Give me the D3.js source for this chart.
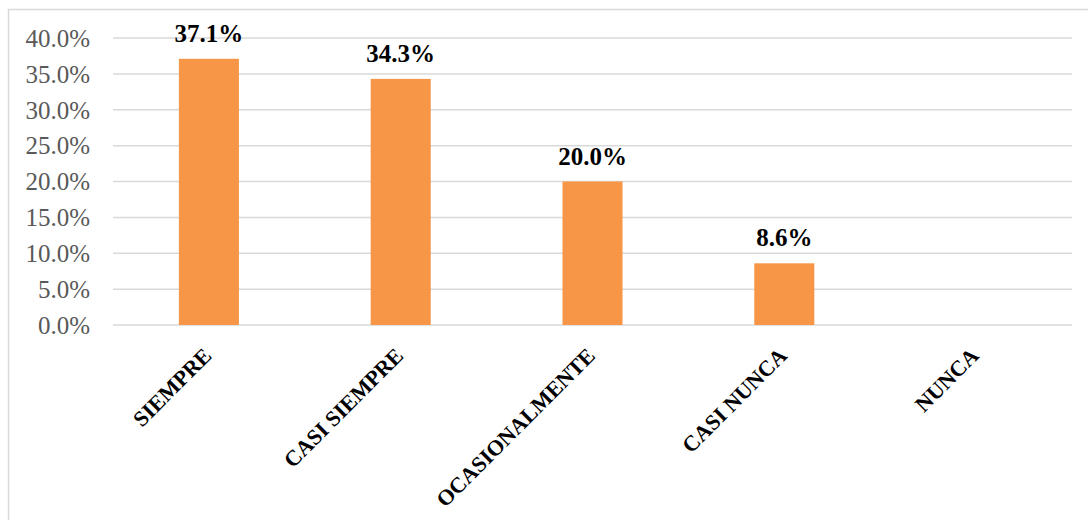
<!DOCTYPE html>
<html>
<head>
<meta charset="utf-8">
<script src="https://cdn.jsdelivr.net/npm/d3@7"></script>
<style>
  body { margin: 0; background: #fff; }
</style>
</head>
<body>
<div id="holder"></div>
<script>
const categories = ["SIEMPRE", "CASI SIEMPRE", "OCASIONALMENTE", "CASI NUNCA", "NUNCA"];
const values = [0.371, 0.343, 0.200, 0.086, 0];
const yTicks = [0, 0.05, 0.10, 0.15, 0.20, 0.25, 0.30, 0.35, 0.40];

const w = 1088;
const h = 520;
const plotLeft = 113, plotRight = 1072, plotTop = 38, plotBottom = 325;

// SVG
const svg = d3.select("#holder")
    .append("svg")
    .attr("width", w)
    .attr("height", h)

// chart border
svg.append("rect")
    .attr("x", 8.5)
    .attr("y", 9.5)
    .attr("width", w + 20)
    .attr("height", h + 20)
    .attr("fill", "none")
    .attr("stroke", "#d9d9d9")
    .attr("stroke-width", 1.5)

// SCALES
const xScale = d3.scaleBand()
    .domain(categories)
    .range([plotLeft, plotRight])
    .paddingInner(0.687)
    .paddingOuter(0.3435)

const yScale = d3.scaleLinear()
    .domain([0, 0.4])
    .range([plotBottom, plotTop])

// GRIDLINES
svg.append("g")
    .selectAll("line")
    .data(yTicks)
    .enter()
    .append("line")
    .attr("x1", plotLeft)
    .attr("x2", plotRight)
    .attr("y1", d => yScale(d))
    .attr("y2", d => yScale(d))
    .attr("stroke", "#d9d9d9")
    .attr("stroke-width", 1.5)

// Y AXIS (labels only)
const yAxis = d3.axisLeft(yScale)
    .tickValues(yTicks)
    .tickFormat(d3.format(".1%"))
    .tickSize(0)
    .tickPadding(0)

const yg = svg.append("g")
    .attr("transform", "translate(90,0)")
    .call(yAxis)
yg.select(".domain").remove()
yg.selectAll("text")
    .attr("font-family", "'Liberation Serif', serif")
    .attr("font-size", 25)
    .attr("fill", "#595959")
    .attr("dy", "0.33em")

// BARS
svg.selectAll("rect.bar")
    .data(values)
    .enter()
    .append("rect")
    .attr("class", "bar")
    .attr("x", (d, i) => xScale(categories[i]))
    .attr("y", d => yScale(d))
    .attr("width", xScale.bandwidth())
    .attr("height", d => plotBottom - yScale(d))
    .attr("fill", "#F79646")

// DATA LABELS
svg.selectAll("text.val")
    .data(values.filter(d => d > 0))
    .enter()
    .append("text")
    .attr("class", "val")
    .attr("x", (d, i) => xScale(categories[i]) + xScale.bandwidth() / 2)
    .attr("y", d => yScale(d) - 17)
    .attr("text-anchor", "middle")
    .attr("font-family", "'Liberation Serif', serif")
    .attr("font-weight", "bold")
    .attr("font-size", 25)
    .attr("fill", "#000")
    .text(d => d3.format(".1%")(d))

// X AXIS (rotated category labels)
const xAxis = d3.axisBottom(xScale)
    .tickSize(0)
    .tickPadding(0)

const xg = svg.append("g")
    .attr("transform", "translate(0," + plotBottom + ")")
    .call(xAxis)
xg.select(".domain").remove()
xg.selectAll("text")
    .attr("font-family", "'Liberation Serif', serif")
    .attr("font-weight", "bold")
    .attr("font-size", 22)
    .attr("fill", "#000")
    .attr("text-anchor", "end")
    .attr("y", 0)
    .attr("dy", 0)
    .attr("transform", "translate(4,32) rotate(-45)")
</script>
</body>
</html>
